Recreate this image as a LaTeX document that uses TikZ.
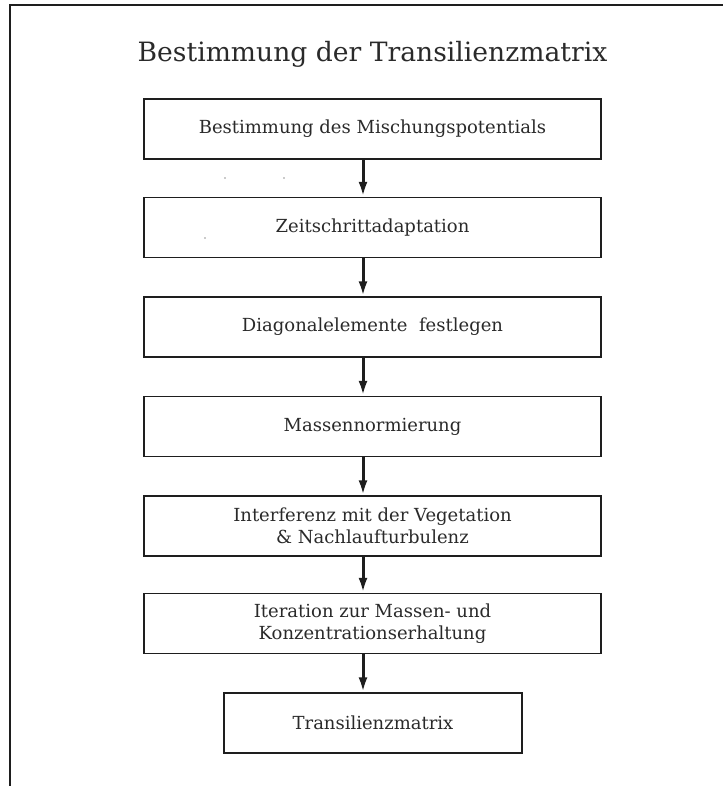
\documentclass[tikz,border=0pt]{standalone}
\usepackage{fontspec}
\setmainfont{DejaVu Serif}
\usetikzlibrary{arrows.meta}
\definecolor{ink}{HTML}{1E1E1E}
\definecolor{txt}{HTML}{2A2A2A}
\begin{document}
\begin{tikzpicture}[x=1pt,y=1pt,
  stepbox/.style={draw=ink, line width=1.4pt, minimum height=60pt,
    text=txt, align=center, inner sep=0pt,
    font=\fontsize{18}{21.5}\selectfont},
  wide/.style={stepbox, minimum width=457pt},
  narrow/.style={stepbox, minimum width=298pt},
  flow/.style={draw=ink, line width=3pt,
    -{Latex[length=15pt,width=9pt]}}]
\useasboundingbox (0,0) rectangle (723,-786);

% frame edges
\draw[ink, line width=2.2pt] (10,-786) -- (10,-5) -- (723,-5);

% title
\node[anchor=base, text=txt, font=\fontsize{26.6}{30}\selectfont]
  (title) at (372.5,-62) {Bestimmung der Transilienzmatrix};

% steps
\node[wide]   (b1) at (372.5,-129)   {Bestimmung des Mischungspotentials};
\node[wide]   (b2) at (372.5,-227.5) {Zeitschrittadaptation};
\node[wide]   (b3) at (372.5,-327)   {Diagonalelemente\ \ festlegen};
\node[wide]   (b4) at (372.5,-426.5) {Massennormierung};
\node[wide]   (b5) at (372.5,-526)   {Interferenz mit der Vegetation\\ \& Nachlaufturbulenz};
\node[wide]   (b6) at (372.5,-623.5) {Iteration zur Massen- und\\ Konzentrationserhaltung};
\node[narrow] (b7) at (373,-723)     {Transilienzmatrix};

% connector axis
\coordinate (ax) at (363,0);
\foreach \a/\b in {b1/b2,b2/b3,b3/b4,b4/b5,b5/b6,b6/b7}
  \draw[flow] (\a.south -| ax) -- (\b.north -| ax);

% specks
\fill[ink] (225,-178) circle (0.7pt);
\fill[ink] (284,-178) circle (0.7pt);
\fill[ink] (205,-238) circle (0.7pt);
\end{tikzpicture}
\end{document}
